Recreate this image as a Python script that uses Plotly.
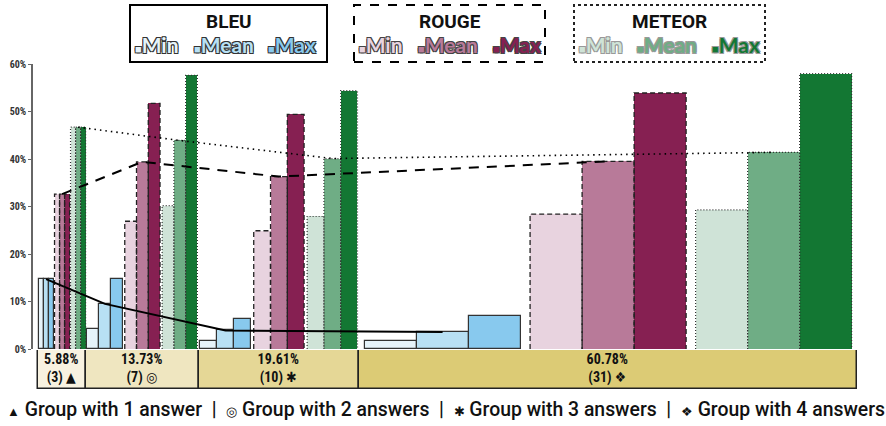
import plotly.graph_objects as go

# ---------------- data ----------------
group_pct = [5.88, 13.73, 19.61, 60.78]
group_n = [3, 7, 10, 31]
group_symbols = ["▲", "◎", "✱", "❖"]
group_colors = ["#f8f2e0", "#efe6c0", "#e5d796", "#dccb75"]

bleu_min = [14.7, 4.3, 1.7, 1.7]
bleu_mean = [14.7, 9.5, 3.9, 3.6]
bleu_max = [14.7, 14.7, 6.3, 7.0]
rouge_min = [32.6, 26.9, 24.9, 28.4]
rouge_mean = [32.6, 39.4, 36.3, 39.5]
rouge_max = [32.6, 51.7, 49.4, 53.9]
meteor_min = [46.7, 30.2, 27.9, 29.3]
meteor_mean = [46.7, 43.9, 40.1, 41.4]
meteor_max = [46.7, 57.6, 54.4, 58.0]

y_ticks = [0, 10, 20, 30, 40, 50, 60]
y_ticktext = ["0%", "10%", "20%", "30%", "40%", "50%", "60%"]

legend_note = ["Group with 1 answer", "Group with 2 answers", "Group with 3 answers", "Group with 4 answers"]

series = [
    ("BLEU", "Min", bleu_min, "#e6f3fa"),
    ("BLEU", "Mean", bleu_mean, "#b8e0f4"),
    ("BLEU", "Max", bleu_max, "#88c9ee"),
    ("ROUGE", "Min", rouge_min, "#e8d3df"),
    ("ROUGE", "Mean", rouge_mean, "#b87a99"),
    ("ROUGE", "Max", rouge_max, "#862052"),
    ("METEOR", "Min", meteor_min, "#cfe3d7"),
    ("METEOR", "Mean", meteor_mean, "#6fad85"),
    ("METEOR", "Max", meteor_max, "#137733"),
]

# ---------------- geometry within groups ----------------
BAR_FR = 0.1045
GAP_FR = 0.019
START_FR = (1 - 9 * BAR_FR - 2 * GAP_FR) / 2

group_start = []
acc = 0.0
for p in group_pct:
    group_start.append(acc)
    acc += p


def bar_pos(g, k):
    w = group_pct[g]
    left = group_start[g] + w * (START_FR + k * BAR_FR + (k // 3) * GAP_FR)
    return left + w * BAR_FR / 2, w * BAR_FR


COND = "Liberation Sans Narrow, Roboto Condensed, DejaVu Sans Condensed, Arial Narrow, sans-serif"
MAIN = "Roboto, Lato, Open Sans, sans-serif"
LEG = "Lato, Roboto, sans-serif"

fig = go.Figure()

outline_style = {
    "ROUGE": dict(color="#222", width=1.3, dash="5px,3px"),
    "METEOR": dict(color="#333", width=1.2, dash="1px,2px"),
}

for k, (metric, stat, vals, col) in enumerate(series):
    xs, ws = [], []
    for g in range(4):
        c, w = bar_pos(g, k)
        xs.append(c)
        ws.append(w)
    line = dict(color="#333", width=1.2) if metric == "BLEU" else dict(width=0)
    fig.add_trace(go.Bar(x=xs, y=vals, width=ws, marker=dict(color=col, line=line),
                         showlegend=False, hoverinfo="skip"))
    if metric != "BLEU":
        ox, oy = [], []
        for c, w, v in zip(xs, ws, vals):
            ox += [c - w / 2, c - w / 2, c + w / 2, c + w / 2, None]
            oy += [0, v, v, 0, None]
        fig.add_trace(go.Scatter(x=ox, y=oy, mode="lines", line=outline_style[metric],
                                 showlegend=False, hoverinfo="skip"))

# mean lines
mean_lines = [(1, bleu_mean, dict(color="black", width=2)),
              (4, rouge_mean, dict(color="black", width=2, dash="10px,8px")),
              (7, meteor_mean, dict(color="black", width=1.6, dash="1.5px,4px"))]
for k, vals, ln in mean_lines:
    xs = [bar_pos(g, k)[0] for g in range(4)]
    fig.add_trace(go.Scatter(x=xs, y=vals, mode="lines", line=ln, showlegend=False,
                             hoverinfo="skip", cliponaxis=False))

# category band
band_x = [s + p / 2 for s, p in zip(group_start, group_pct)]
band_text = [f"<b>{p:.2f}%</b><br><b>({n}) {s}</b>" for p, n, s in zip(group_pct, group_n, group_symbols)]
fig.add_trace(go.Bar(x=band_x, y=[1] * 4, width=group_pct, yaxis="y2",
                     marker=dict(color=group_colors, line=dict(color="#222", width=1.5)),
                     text=band_text, textposition="inside", insidetextanchor="middle",
                     textangle=0, constraintext="none", cliponaxis=False,
                     textfont=dict(family=COND, size=14, color="#111"),
                     showlegend=False, hoverinfo="skip"))

# ---------------- layout ----------------
W, H = 886, 426
L, R, T, B = 33, 28, 64, 37
PW, PH = W - L - R, H - T - B
scale = (857 - 38) / 100.0


def px(x):
    return (x - L) / PW


def py(y):
    return (H - B - y) / PH


fig.update_layout(
    template="none",
    width=W, height=H, margin=dict(l=L, r=R, t=T, b=B, autoexpand=False),
    paper_bgcolor="white", plot_bgcolor="white",
    barmode="overlay", bargap=0,
    xaxis=dict(range=[-5 / scale, 100 + 1 / scale], visible=False, fixedrange=True, automargin=False),
    yaxis=dict(domain=[(H - B - 349) / PH, 1], range=[0, 60], tickvals=y_ticks, ticktext=y_ticktext,
               showgrid=False, zeroline=False, showline=True, linecolor="#666", linewidth=1.5,
               ticks="outside", ticklen=3, tickcolor="#666", automargin=False,
               tickfont=dict(family=COND, size=10, color="#333", weight="bold")),
    yaxis2=dict(domain=[0, (H - B - 350) / PH], range=[0, 1], visible=False, automargin=False),
    font=dict(family=MAIN),
)

shapes = []
annotations = []
boxes = [
    ("BLEU", 130, 327, dict(color="black", width=2), [133, 192, 266], [0, 1, 2]),
    ("ROUGE", 354, 545, dict(color="black", width=2, dash="dash"), [357, 416, 491], [3, 4, 5]),
    ("METEOR", 574, 765, dict(color="#222", width=2, dash="dot"), [577, 635, 710], [6, 7, 8]),
]
outlines = {
    "BLEU": "-1px -1px 0 #333, 1px -1px 0 #333, -1px 1px 0 #333, 1px 1px 0 #333",
    "ROUGE": "-1px -1px 0 #444, 1px -1px 0 #444, -1px 1px 0 #444, 1px 1px 0 #444",
    "METEOR": "-1px -1px 0 #999, 1px -1px 0 #999, -1px 1px 0 #999, 1px 1px 0 #999",
}
for name, x0, x1, ln, item_x, idx in boxes:
    shapes.append(dict(type="rect", xref="paper", yref="paper", x0=px(x0), x1=px(x1),
                       y0=py(62), y1=py(5), line=ln, fillcolor="rgba(0,0,0,0)"))
    annotations.append(dict(text=f"<b>{name}</b>", xref="paper", yref="paper",
                            x=px((x0 + x1) / 2), y=py(21), showarrow=False,
                            xanchor="center", yanchor="middle",
                            font=dict(family=MAIN, size=19, color="#111")))
    for xx, k in zip(item_x, idx):
        metric, stat, vals, col = series[k]
        annotations.append(dict(text=f"<span style='font-size:11px'>■</span>{stat}", xref="paper",
                                yref="paper", x=px(xx), y=py(45), showarrow=False,
                                xanchor="left", yanchor="middle",
                                font=dict(family=LEG, size=21, color=col, weight="bold",
                                          style="normal", shadow=outlines[metric])))

note = "  |  ".join(f"<span style='font-size:13px'>{s}</span> {t}" for s, t in zip(group_symbols, legend_note))
annotations.append(dict(text=note, xref="paper", yref="paper", x=px(446), y=py(410),
                        showarrow=False, xanchor="center", yanchor="middle",
                        font=dict(family=MAIN, size=19.4, color="#111", weight=500)))

fig.update_layout(shapes=shapes, annotations=annotations)

fig.write_html("out.html", config={"displayModeBar": False},
               post_script="document.body.style.margin='0';document.body.style.padding='0';")
